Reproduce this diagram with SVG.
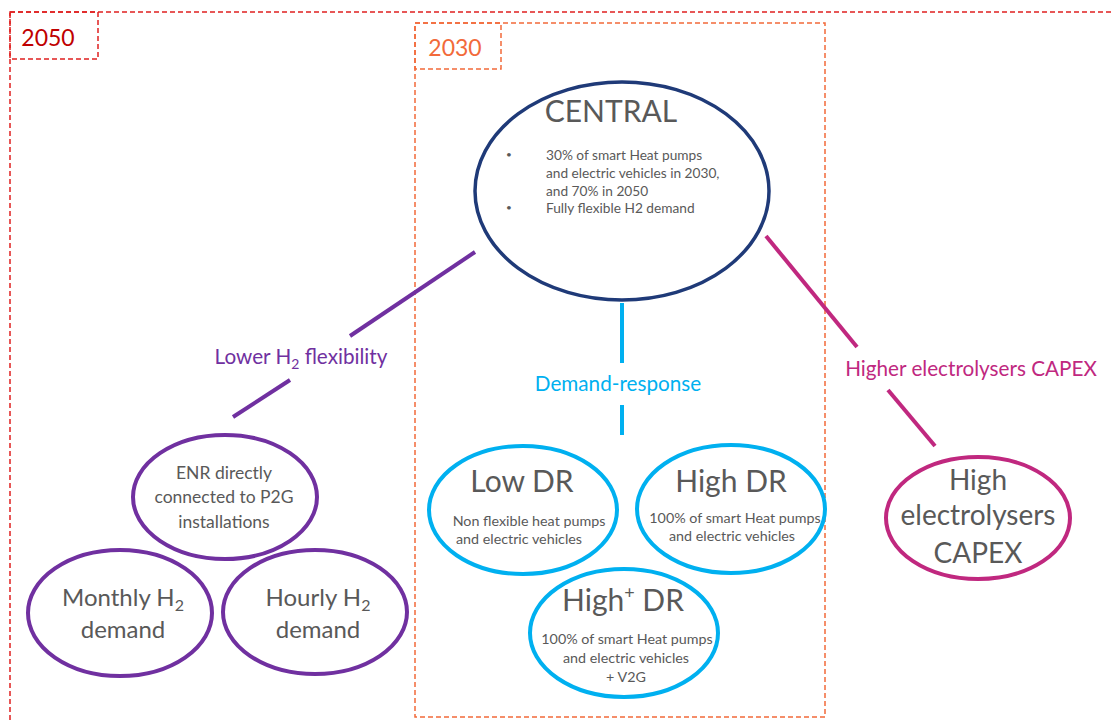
<svg xmlns="http://www.w3.org/2000/svg" width="1112" height="722" viewBox="0 0 1112 722">
<style>
text{font-family:Lato,"Open Sans","Liberation Sans",sans-serif;fill:#595959;text-anchor:middle}
.frame50{fill:none;stroke:#e02020;stroke-width:1.5;stroke-dasharray:5 3}
.frame30{fill:none;stroke:#f26a3a;stroke-width:1.5;stroke-dasharray:5 3}
.purple{fill:none;stroke:#7030a0;stroke-width:4}
.cyan{fill:none;stroke:#00b0f0;stroke-width:4}
.mag{fill:none;stroke:#c0287f;stroke-width:4}
.navy{fill:none;stroke:#1f3a78;stroke-width:3.5}
.small{font-size:14.3px}
.bul{text-anchor:start;font-size:13.7px}
.lbl{font-size:20.7px}
</style>
<rect class="frame50" x="10" y="12" width="1120" height="730"/>
<g id="label2050">
<rect class="frame50" x="10" y="12" width="88" height="47"/>
<text x="48" y="46" style="font-size:23px;fill:#c00000">2050</text>
</g>
<rect class="frame30" x="415" y="23" width="410" height="694"/>
<g id="label2030">
<rect class="frame30" x="415" y="23" width="86" height="46"/>
<text x="455" y="56" style="font-size:23px;fill:#f26a3a">2030</text>
</g>
<g id="connectors">
<line class="purple" x1="475" y1="252" x2="350" y2="336"/>
<line class="purple" x1="290" y1="380" x2="233" y2="417"/>
<text x="301" y="364" class="lbl" style="fill:#7030a0">Lower H<tspan dy="5" style="font-size:14px">2</tspan><tspan dy="-5"> flexibility</tspan></text>
<line class="cyan" x1="622" y1="303" x2="622" y2="363"/>
<line class="cyan" x1="622" y1="405" x2="622" y2="435"/>
<text x="618" y="391" class="lbl" style="fill:#00b0f0">Demand-response</text>
<line class="mag" x1="766" y1="236" x2="857" y2="347"/>
<line class="mag" x1="888" y1="390" x2="935" y2="446"/>
<text x="971" y="376" class="lbl" style="fill:#c0287f">Higher electrolysers CAPEX</text>
</g>
<g id="central">
<ellipse class="navy" cx="622" cy="191" rx="147" ry="109"/>
<text x="611" y="122" style="font-size:30px">CENTRAL</text>
<text x="506" y="158" class="bul" style="font-size:10px">•</text>
<text x="546" y="160" class="bul">30% of smart Heat pumps</text>
<text x="546" y="178" class="bul">and electric vehicles in 2030,</text>
<text x="546" y="196" class="bul">and 70% in 2050</text>
<text x="506" y="211" class="bul" style="font-size:10px">•</text>
<text x="546" y="213" class="bul">Fully flexible H2 demand</text>
</g>
<g id="enr">
<ellipse class="purple" cx="225" cy="497" rx="92" ry="62"/>
<text x="224" y="479" style="font-size:17.5px">ENR directly</text>
<text x="224" y="503" style="font-size:17.5px">connected to P2G</text>
<text x="224" y="528" style="font-size:17.5px">installations</text>
</g>
<g id="monthly">
<ellipse class="purple" cx="120" cy="613" rx="92" ry="63"/>
<text x="123" y="606" style="font-size:24px">Monthly H<tspan dy="5" style="font-size:16px">2</tspan></text>
<text x="123" y="638" style="font-size:24px">demand</text>
</g>
<g id="hourly">
<ellipse class="purple" cx="315" cy="612" rx="92" ry="62"/>
<text x="318" y="606" style="font-size:24px">Hourly H<tspan dy="5" style="font-size:16px">2</tspan></text>
<text x="318" y="638" style="font-size:24px">demand</text>
</g>
<g id="lowdr">
<ellipse class="cyan" cx="523" cy="510" rx="94" ry="64"/>
<text x="522" y="492" style="font-size:30px">Low DR</text>
<text x="529" y="526" class="small">Non flexible heat pumps</text>
<text x="519" y="544" class="small">and electric vehicles</text>
</g>
<g id="highdr">
<ellipse class="cyan" cx="731" cy="509" rx="94" ry="64"/>
<text x="731" y="492" style="font-size:30px">High DR</text>
<text x="735" y="523" class="small">100% of smart Heat pumps</text>
<text x="732" y="541" class="small">and electric vehicles</text>
</g>
<g id="highplusdr">
<ellipse class="cyan" cx="624" cy="633" rx="94" ry="64"/>
<text x="623" y="611" style="font-size:30px">High<tspan dy="-12" style="font-size:18px">+</tspan><tspan dy="12"> DR</tspan></text>
<text x="627" y="644" class="small">100% of smart Heat pumps</text>
<text x="626" y="663" class="small">and electric vehicles</text>
<text x="626" y="682" class="small">+ V2G</text>
</g>
<g id="capex">
<ellipse class="mag" cx="978" cy="518" rx="92" ry="61"/>
<text x="978" y="490" style="font-size:28px">High</text>
<text x="978" y="525" style="font-size:28px">electrolysers</text>
<text x="978" y="563" style="font-size:28px">CAPEX</text>
</g>
</svg>
